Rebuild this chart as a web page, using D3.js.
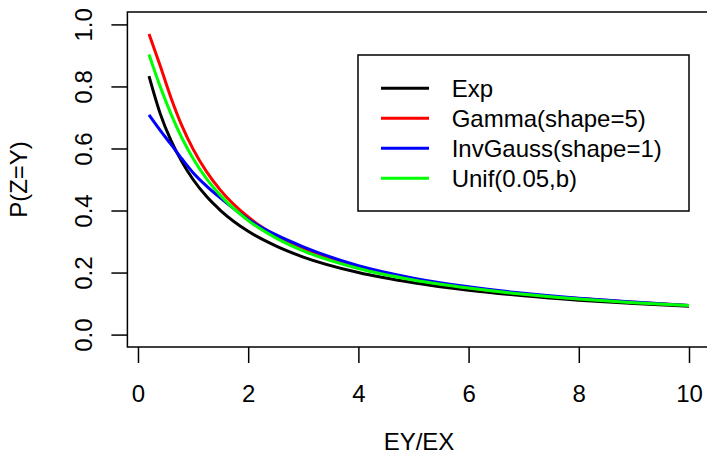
<!DOCTYPE html>
<html>
<head>
<meta charset="utf-8">
<script src="https://cdn.jsdelivr.net/npm/d3@7.9.0/dist/d3.min.js"></script>
<style>
  body { margin: 0; background: #fff; }
  svg { display: block; font-family: "Liberation Sans", Arial, sans-serif; }
</style>
</head>
<body>
<svg id="chart" width="707" height="466"></svg>
<script>
// EY/EX values where the curves were read
const ratio = [0.2, 0.4, 0.6, 0.8, 1, 1.25, 1.5, 2, 2.5, 3, 4, 5, 6, 7, 8, 9, 10];

const expVals = [0.833, 0.714, 0.625, 0.556, 0.5, 0.444, 0.4, 0.333, 0.286, 0.25, 0.2, 0.167, 0.143, 0.125, 0.111, 0.1, 0.091];
const gammaVals = [0.969, 0.868, 0.763, 0.672, 0.598, 0.524, 0.465, 0.379, 0.319, 0.276, 0.217, 0.178, 0.151, 0.131, 0.116, 0.104, 0.094];
const invGaussVals = [0.708, 0.659, 0.613, 0.566, 0.522, 0.478, 0.44, 0.372, 0.322, 0.283, 0.222, 0.182, 0.154, 0.133, 0.117, 0.105, 0.094];
const unifVals = [0.903, 0.801, 0.711, 0.633, 0.568, 0.501, 0.448, 0.368, 0.312, 0.27, 0.213, 0.176, 0.15, 0.13, 0.115, 0.103, 0.094];

const seriesNames = ['Exp', 'Gamma(shape=5)', 'InvGauss(shape=1)', 'Unif(0.05,b)'];
const seriesColors = ['#000000', '#ff0000', '#0000ff', '#00ff00'];

const xTicks = [0, 2, 4, 6, 8, 10];
const yTicks = [0, 0.2, 0.4, 0.6, 0.8, 1.0];

const svg = d3.select('#chart');

// R style: 4% padding around the data range
let x = d3.scaleLinear().domain([-0.192, 10.392]).range([127.4, 710.6]);
let y = d3.scaleLinear().domain([-0.04, 1.04]).range([347, 12]);

const fontSize = 24;

// plot frame
svg.append('rect')
  .attr('x', x.range()[0])
  .attr('y', y.range()[1])
  .attr('width', x.range()[1] - x.range()[0])
  .attr('height', y.range()[0] - y.range()[1])
  .attr('fill', 'none')
  .attr('stroke', '#000')
  .attr('stroke-width', 1.5);

// x axis
let xAxis = svg.append('g')
  .attr('transform', `translate(0,${y.range()[0]})`)
  .call(d3.axisBottom(x).tickValues(xTicks).tickSize(16).tickPadding(22).tickFormat(d3.format('d')));
xAxis.select('.domain').remove();
xAxis.selectAll('line').attr('stroke-width', 1.5);
xAxis.selectAll('text')
  .attr('font-size', fontSize)
  .attr('font-family', 'Liberation Sans, Arial, sans-serif')
  .attr('fill', '#000');

// y axis, labels turned like R's las=0
let yAxis = svg.append('g')
  .attr('transform', `translate(${x.range()[0]},0)`)
  .call(d3.axisLeft(y).tickValues(yTicks).tickSize(16).tickFormat(d3.format('.1f')));
yAxis.select('.domain').remove();
yAxis.selectAll('line').attr('stroke-width', 1.5);
yAxis.selectAll('text').remove();
yAxis.selectAll('.tick')
  .append('text')
  .attr('transform', 'translate(-35.5,0) rotate(-90)')
  .attr('text-anchor', 'middle')
  .attr('font-size', fontSize)
  .attr('fill', '#000')
  .text((d) => d3.format('.1f')(d));

// axis titles
svg.append('text')
  .attr('x', (x.range()[0] + x.range()[1]) / 2)
  .attr('y', 450)
  .attr('text-anchor', 'middle')
  .attr('font-size', fontSize)
  .text('EY/EX');

svg.append('text')
  .attr('transform', `translate(26.5,${(y.range()[0] + y.range()[1]) / 2}) rotate(-90)`)
  .attr('text-anchor', 'middle')
  .attr('font-size', fontSize)
  .text('P(Z=Y)');

// curves
let allSeries = [expVals, gammaVals, invGaussVals, unifVals];
let line = d3.line()
  .x((d) => x(d[0]))
  .y((d) => y(d[1]))
  .curve(d3.curveMonotoneX);

allSeries.forEach((vals, idx) => {
  svg.append('path')
    .datum(d3.zip(ratio, vals))
    .attr('d', line)
    .attr('fill', 'none')
    .attr('stroke', seriesColors[idx])
    .attr('stroke-width', 3);
});

// legend
let legend = svg.append('g');
legend.append('rect')
  .attr('x', 358)
  .attr('y', 55)
  .attr('width', 331)
  .attr('height', 156)
  .attr('fill', '#fff')
  .attr('stroke', '#000')
  .attr('stroke-width', 1.5);

seriesNames.forEach((name, idx) => {
  let cy = 88.3 + idx * 30;
  legend.append('line')
    .attr('x1', 381)
    .attr('x2', 429)
    .attr('y1', cy)
    .attr('y2', cy)
    .attr('stroke', seriesColors[idx])
    .attr('stroke-width', 3);
  legend.append('text')
    .attr('x', 451.7)
    .attr('y', cy + 8.5)
    .attr('font-size', fontSize)
    .text(name);
});
</script>
</body>
</html>
